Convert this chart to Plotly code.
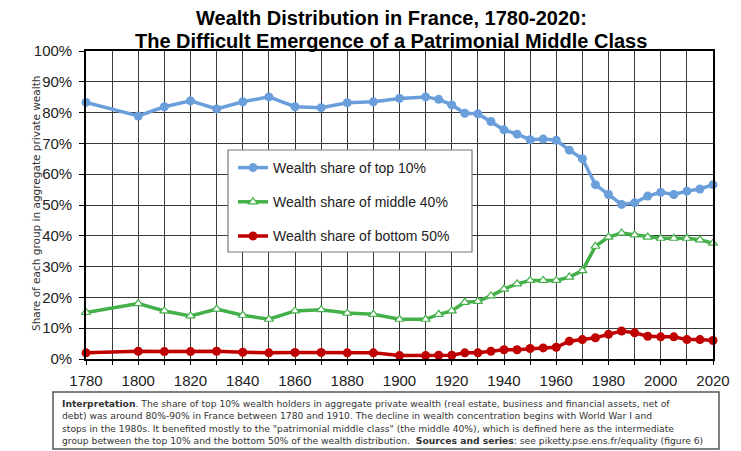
import plotly.graph_objects as go

years = [1780, 1800, 1810, 1820, 1830, 1840, 1850, 1860, 1870, 1880, 1890, 1900,
         1910, 1915, 1920, 1925, 1930, 1935, 1940, 1945, 1950, 1955, 1960, 1965,
         1970, 1975, 1980, 1985, 1990, 1995, 2000, 2005, 2010, 2015, 2020]

top10 = [83.3, 78.9, 81.9, 83.8, 81.2, 83.5, 85.1, 81.9, 81.6, 83.2, 83.5, 84.6,
         85.1, 84.3, 82.5, 79.8, 79.6, 77.1, 74.4, 73.0, 71.2, 71.4, 71.0, 67.8,
         65.0, 56.6, 53.4, 50.2, 50.7, 52.9, 54.1, 53.4, 54.5, 55.2, 56.6]

middle40 = [15.1, 18.0, 15.6, 14.0, 16.2, 14.2, 12.9, 15.6, 16.0, 14.9, 14.5, 12.9,
            12.9, 14.5, 15.6, 18.4, 18.7, 20.5, 22.7, 24.4, 25.5, 25.5, 25.5, 26.6,
            28.7, 36.6, 39.6, 40.9, 40.3, 39.6, 39.2, 39.2, 39.2, 38.7, 37.6]

bottom50 = [2.0, 2.5, 2.4, 2.4, 2.5, 2.2, 2.0, 2.1, 2.1, 2.0, 2.0, 1.1,
            1.1, 1.2, 1.2, 2.0, 2.0, 2.5, 3.0, 3.0, 3.4, 3.6, 3.8, 5.8,
            6.3, 6.9, 8.0, 9.1, 8.5, 7.4, 7.2, 7.2, 6.3, 6.3, 6.0]

series_names = ["Wealth share of top 10%", "Wealth share of middle 40%",
                "Wealth share of bottom 50%"]

x_ticks = list(range(1780, 2021, 10))
x_labels = [str(y) if (y - 1780) % 20 == 0 else "" for y in x_ticks]
y_ticks = list(range(0, 101, 10))
y_labels = [f"{v}%" for v in y_ticks]

title_lines = ["Wealth Distribution in France, 1780-2020:",
               "The Difficult Emergence of a Patrimonial Middle Class"]

note_lines = [
    "<b>Interpretation</b>. The share of top 10% wealth holders in aggregate private wealth "
    "(real estate, business and financial assets, net of",
    "debt) was around 80%-90% in France between 1780 and 1910. The decline in wealth "
    "concentration begins with World War I and",
    "stops in the 1980s. It benefited mostly to the \"patrimonial middle class\" "
    "(the middle 40%), which is defined here as the intermediate",
    "group between the top 10% and the bottom 50% of the wealth distribution.  "
    "<b>Sources and series</b>: see piketty.pse.ens.fr/equality (figure 6)",
]

FONT = "Liberation Sans, Arial, sans-serif"
NFONT = "DejaVu Sans, sans-serif"
BLUE = "#6A9FDB"
GREEN = "#44B04A"
RED = "#C00000"

fig = go.Figure()
fig.add_trace(go.Scatter(
    x=years, y=top10, name=series_names[0], mode="lines+markers",
    line=dict(color=BLUE, width=3.5),
    marker=dict(symbol="circle", size=9, color=BLUE),
    cliponaxis=False, legendgroup="a"))
fig.add_trace(go.Scatter(
    x=years, y=middle40, name=series_names[1], mode="lines+markers",
    line=dict(color=GREEN, width=3.5),
    marker=dict(symbol="triangle-up", size=8, color="white",
                line=dict(color=GREEN, width=1.2)),
    cliponaxis=False, legendgroup="b"))
fig.add_trace(go.Scatter(
    x=years, y=bottom50, name=series_names[2], mode="lines+markers",
    line=dict(color=RED, width=3.5),
    marker=dict(symbol="circle", size=9, color=RED),
    cliponaxis=False, legendgroup="c"))

# page body adds an 8px offset; work in visible-pixel coordinates
OFF = 8
W, H = 733, 443
PL, PR, PT, PB = 86, 713, 51, 359   # visible plot-area edges
L, R = PL - OFF, W - (PR - OFF)
T, B = PT - OFF, H - (PB - OFF)
pw, ph = PR - PL, PB - PT


def px(xv):
    return (xv - PL) / pw


def py(yv):
    return (PB - yv) / ph


fig.update_layout(
    width=W, height=H,
    margin=dict(l=L, r=R, t=T, b=B),
    paper_bgcolor="white", plot_bgcolor="white",
    font=dict(family=FONT, color="#222"),
    showlegend=True,
    legend=dict(
        x=px(233), y=py(152), xanchor="left", yanchor="top",
        bgcolor="rgba(0,0,0,0)", borderwidth=0,
        font=dict(size=14, family=FONT, color="#222"),
        traceorder="grouped", tracegroupgap=13, itemwidth=30),
    xaxis=dict(
        range=[1780, 2020], tickvals=x_ticks, ticktext=x_labels,
        showgrid=True, gridcolor="#3a3a3a", gridwidth=1.2,
        showline=True, linecolor="black", linewidth=1.6, mirror=True,
        ticks="outside", ticklen=4, tickcolor="black", ticklabelstandoff=3,
        tickfont=dict(size=15, color="#222", family=FONT), zeroline=False),
    yaxis=dict(
        range=[0, 100], tickvals=y_ticks, ticktext=y_labels,
        showgrid=True, gridcolor="#3a3a3a", gridwidth=1.2,
        showline=True, linecolor="black", linewidth=1.6, mirror=True,
        ticks="outside", ticklen=5, tickcolor="black", ticklabelstandoff=4,
        tickfont=dict(size=15, color="#222", family=FONT), zeroline=False),
)

# title (two lines)
for txt, yv in zip(title_lines, [18, 41]):
    fig.add_annotation(text=f"<b>{txt}</b>", xref="paper", yref="paper",
                       x=px(391), y=py(yv), xanchor="center", yanchor="middle",
                       showarrow=False,
                       font=dict(size=20, family=FONT, color="black"))

# legend box
fig.add_shape(type="rect", xref="paper", yref="paper",
              x0=px(228), x1=px(472), y0=py(252), y1=py(150),
              fillcolor="white", line=dict(color="#777", width=1.2), layer="above")

# y-axis title
fig.add_annotation(
    text="Share of each group in aggregate private wealth",
    xref="paper", yref="paper", x=px(28), y=py(204), textangle=-90,
    showarrow=False, font=dict(size=10.5, family=NFONT, color="#333"))

# note box
fig.add_shape(type="rect", xref="paper", yref="paper",
              x0=px(53), x1=px(719), y0=py(449), y1=py(392),
              fillcolor="white", line=dict(color="#555", width=1.5), layer="above")
for txt, yv in zip(note_lines, [403, 415.5, 428, 440.5]):
    fig.add_annotation(text=txt, xref="paper", yref="paper",
                       x=px(60), y=py(yv), xanchor="left", yanchor="middle",
                       align="left", showarrow=False,
                       font=dict(size=9.2, family=NFONT, color="#333"))

fig.write_html("out.html")
